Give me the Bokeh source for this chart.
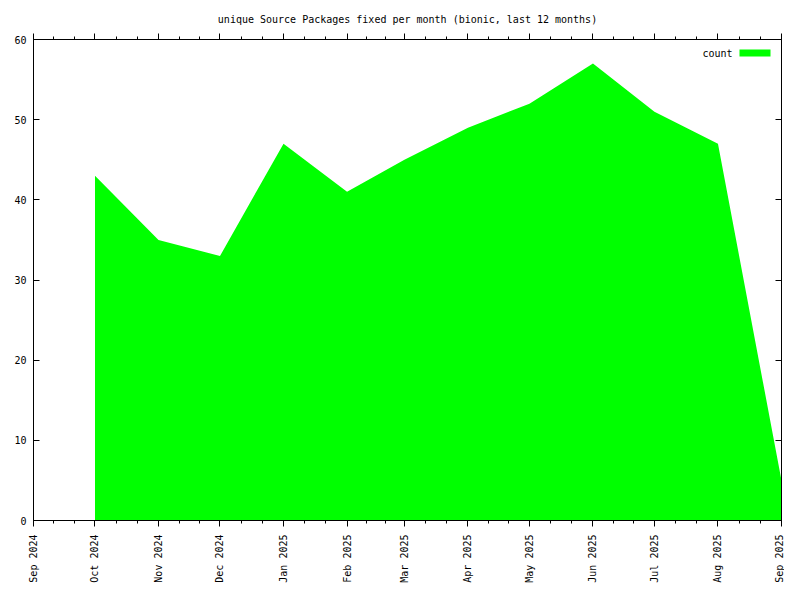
import math
from datetime import datetime, timezone
from bokeh.plotting import figure
from bokeh.models import (Range1d, FixedTicker, LinearAxis, BoxAnnotation, Label,
                          ColumnDataSource)
from bokeh.embed import file_html
from bokeh.resources import INLINE

# ---- data ----
months = ["2024-10-01", "2024-11-01", "2024-12-01", "2025-01-01", "2025-02-01",
          "2025-03-01", "2025-04-01", "2025-05-01", "2025-06-01", "2025-07-01",
          "2025-08-01", "2025-09-01"]
counts = [43, 35, 33, 47, 41, 45, 49, 52, 57, 51, 47, 5]
tick_dates = ["2024-09-01", "2024-10-01", "2024-11-01", "2024-12-01", "2025-01-01",
              "2025-02-01", "2025-03-01", "2025-04-01", "2025-05-01", "2025-06-01",
              "2025-07-01", "2025-08-01", "2025-09-01"]
tick_labels = ["Sep 2024", "Oct 2024", "Nov 2024", "Dec 2024", "Jan 2025", "Feb 2025",
               "Mar 2025", "Apr 2025", "May 2025", "Jun 2025", "Jul 2025", "Aug 2025",
               "Sep 2025"]
y_ticks = [0, 10, 20, 30, 40, 50, 60]
title_text = "unique Source Packages fixed per month (bionic, last 12 months)"
series_name = "count"

FONT = "DejaVu Sans Mono"
GREEN = "#00ff00"


def ms(s):
    return int(datetime.fromisoformat(s).replace(tzinfo=timezone.utc).timestamp() * 1000)


xs = [ms(m) for m in months]
major = [ms(d) for d in tick_dates]
minor = []
for a, b in zip(major[:-1], major[1:]):
    minor += [a + (b - a) / 3.0, a + 2 * (b - a) / 3.0]

src = ColumnDataSource(data=dict(x=xs, y=counts))

p = figure(frame_width=748, frame_height=481, output_backend="svg",
           toolbar_location=None, x_axis_type="datetime",
           x_range=Range1d(major[0], major[-1]), y_range=Range1d(0, 60),
           min_border_left=33, min_border_right=3, min_border_top=39,
           min_border_bottom=64)
p.background_fill_color = "white"
p.border_fill_color = "white"
p.outline_line_color = "black"
p.xgrid.visible = False
p.ygrid.visible = False

p.varea(x="x", y1=0, y2="y", source=src, fill_color=GREEN, fill_alpha=1.0)

# title
p.title.text = title_text
p.title.align = "center"
p.title.text_font = FONT
p.title.text_font_size = "10px"
p.title.text_font_style = "normal"
p.title.text_color = "black"
p.title.standoff = 17

xticker = FixedTicker(ticks=major, minor_ticks=minor)
yticker = FixedTicker(ticks=y_ticks, minor_ticks=[])

xa = p.xaxis[0]
xa.ticker = xticker
xa.major_label_overrides = {t: lab for t, lab in zip(major, tick_labels)}
xa.major_label_orientation = math.pi / 2
xa.major_label_text_font = FONT
xa.major_label_text_font_size = "10px"
xa.major_label_text_color = "black"
xa.major_label_standoff = 8
xa.major_tick_in = 0
xa.major_tick_out = 6
xa.minor_tick_in = 0
xa.minor_tick_out = 3
xa.axis_line_color = "black"
xa.major_tick_line_color = "black"
xa.minor_tick_line_color = "black"

ya = p.yaxis[0]
ya.ticker = yticker
ya.major_label_text_font = FONT
ya.major_label_text_font_size = "10px"
ya.major_label_text_color = "black"
ya.major_label_standoff = 7
ya.major_tick_in = 6
ya.major_tick_out = 0
ya.minor_tick_line_color = None
ya.axis_line_color = "black"
ya.major_tick_line_color = "black"

# mirrored axes
top = LinearAxis(ticker=xticker, major_label_text_font_size="0px",
                 major_label_overrides={t: "" for t in major},
                 major_tick_in=0, major_tick_out=6, minor_tick_in=0, minor_tick_out=3,
                 major_label_standoff=0, axis_line_color="black",
                 major_tick_line_color="black", minor_tick_line_color="black")
p.add_layout(top, "above")
right = LinearAxis(ticker=yticker, major_label_text_font_size="0px",
                   major_label_overrides={t: "" for t in y_ticks},
                   major_tick_in=6, major_tick_out=0, minor_tick_line_color=None,
                   major_label_standoff=0, axis_line_color="black",
                   major_tick_line_color="black")
p.add_layout(right, "right")

# legend (gnuplot style: label left of swatch)
p.add_layout(BoxAnnotation(left=706, right=737, top=471, bottom=464,
                           left_units="screen", right_units="screen",
                           top_units="screen", bottom_units="screen",
                           fill_color=GREEN, fill_alpha=1.0, line_color=None))
p.add_layout(Label(x=699, y=467, x_units="screen", y_units="screen", text=series_name,
                   text_font=FONT, text_font_size="10px", text_align="right",
                   text_baseline="middle", text_color="black"))

open("out.html", "w").write(file_html(p, INLINE))
